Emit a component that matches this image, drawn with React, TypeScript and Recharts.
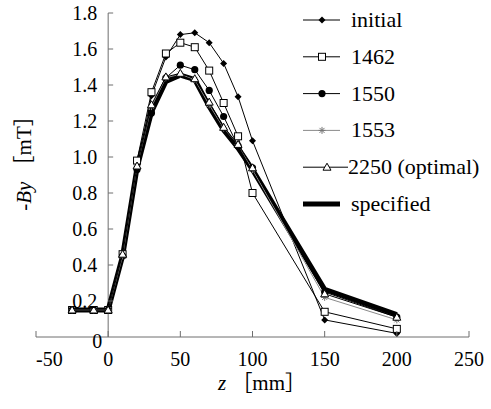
import React from 'react';
import { LineChart, Line, XAxis, YAxis, ReferenceLine, Legend } from 'recharts';

// z positions [mm] and -By values [mT]
const zPositions = [-25, -10, 0, 10, 20, 30, 40, 50, 60, 70, 80, 90, 100, 150, 200];
const initialValues = [0.15, 0.15, 0.15, 0.46, 0.94, 1.34, 1.555, 1.68, 1.69, 1.635, 1.52, 1.335, 1.09, 0.095, 0.02];
const run1462Values = [0.15, 0.15, 0.15, 0.46, 0.98, 1.36, 1.575, 1.635, 1.61, 1.48, 1.3, 1.115, 0.8, 0.14, 0.045];
const run1550Values = [0.15, 0.15, 0.15, 0.45, 0.93, 1.245, 1.44, 1.51, 1.485, 1.37, 1.225, 1.06, 0.94, 0.25, 0.11];
const run1553Values = [0.15, 0.15, 0.15, 0.45, 0.95, 1.28, 1.44, 1.46, 1.43, 1.29, 1.16, 1.07, 0.93, 0.22, 0.095];
const run2250Values = [0.15, 0.15, 0.15, 0.46, 0.95, 1.29, 1.445, 1.465, 1.435, 1.305, 1.165, 1.07, 0.94, 0.24, 0.11];
const specifiedValues = [0.15, 0.15, 0.15, 0.45, 0.94, 1.25, 1.42, 1.455, 1.43, 1.28, 1.15, 1.05, 0.93, 0.265, 0.125];

const xTicks = [-50, 0, 50, 100, 150, 200, 250];
const yTicks = [0, 0.2, 0.4, 0.6, 0.8, 1.0, 1.2, 1.4, 1.6, 1.8];

const data = zPositions.map((z, i) => ({
  z,
  initial: initialValues[i],
  r1462: run1462Values[i],
  r1550: run1550Values[i],
  r1553: run1553Values[i],
  r2250: run2250Values[i],
  specified: specifiedValues[i],
}));

const FONT = "'Liberation Serif', 'Times New Roman', 'Noto Sans CJK JP', serif";
const AXIS = '#6e6e6e';
const W = 491;
const H = 409;
const M = { top: 13, right: 22, left: 35, bottom: 32 };
const PLOT_W = W - M.left - 1 - M.right;
// y axis sits at z = 0 inside the x domain [-50, 250]
const ZERO_OFFSET = (PLOT_W * 50) / 300;

type Kind = 'diamond' | 'square' | 'circle' | 'asterisk' | 'triangle' | 'none';

const series: { key: string; name: string; kind: Kind; stroke: string; width: number }[] = [
  { key: 'specified', name: 'specified', kind: 'none', stroke: '#000', width: 5 },
  { key: 'initial', name: 'initial', kind: 'diamond', stroke: '#000', width: 1 },
  { key: 'r1462', name: '1462', kind: 'square', stroke: '#000', width: 1 },
  { key: 'r1550', name: '1550', kind: 'circle', stroke: '#000', width: 1 },
  { key: 'r1553', name: '1553', kind: 'asterisk', stroke: '#8a8a8a', width: 1 },
  { key: 'r2250', name: '2250 (optimal)', kind: 'triangle', stroke: '#000', width: 1 },
];

const legendOrder = ['initial', 'r1462', 'r1550', 'r1553', 'r2250', 'specified'];

const textStyle = { fontFamily: FONT, fontSize: 20, fill: '#000' };

function Marker({ kind, cx, cy }: { kind: Kind; cx: number; cy: number }) {
  if (cx == null || cy == null) return null;
  switch (kind) {
    case 'diamond':
      return <path d={`M${cx},${cy - 3.5}L${cx + 3.5},${cy}L${cx},${cy + 3.5}L${cx - 3.5},${cy}Z`} fill="#000" />;
    case 'square':
      return <rect x={cx - 3.5} y={cy - 3.5} width={7} height={7} fill="#fff" stroke="#000" strokeWidth={1} />;
    case 'circle':
      return <circle cx={cx} cy={cy} r={3.6} fill="#000" />;
    case 'asterisk':
      return (
        <g stroke="#777" strokeWidth={1}>
          <line x1={cx - 3.5} x2={cx + 3.5} y1={cy} y2={cy} />
          <line x1={cx - 2.5} x2={cx + 2.5} y1={cy - 2.5} y2={cy + 2.5} />
          <line x1={cx - 2.5} x2={cx + 2.5} y1={cy + 2.5} y2={cy - 2.5} />
          <line x1={cx} x2={cx} y1={cy - 3.5} y2={cy + 3.5} />
        </g>
      );
    case 'triangle':
      return <path d={`M${cx},${cy - 4}L${cx + 4},${cy + 3}L${cx - 4},${cy + 3}Z`} fill="#fff" stroke="#000" strokeWidth={1} />;
    default:
      return null;
  }
}

function XTick(props: any) {
  const { x, y, payload, index } = props;
  return (
    <g>
      <line x1={x} x2={x} y1={y} y2={y - 6} stroke={AXIS} />
      <text x={x} y={y + 29} textAnchor={index === 0 ? 'start' : 'middle'} style={textStyle}>
        {payload.value}
      </text>
    </g>
  );
}

function YTick(props: any) {
  const { x, y, payload } = props;
  const ax = x + ZERO_OFFSET;
  const v = payload.value as number;
  if (v === 0) {
    return (
      <text x={ax - 6} y={y + 11} textAnchor="end" style={textStyle}>
        0
      </text>
    );
  }
  return (
    <g>
      <line x1={ax} x2={ax + 5} y1={y} y2={y} stroke={AXIS} />
      <text x={ax - 11} y={y + 7} textAnchor="end" style={textStyle}>
        {v.toFixed(1)}
      </text>
    </g>
  );
}

// legend sits in the top right corner, drawn by hand to match the Excel look
function LegendBox() {
  return (
    <svg width={193} height={225} style={{ display: 'block' }}>
      {legendOrder.map((key, i) => {
        const s = series.find((d) => d.key === key)!;
        const cy = 20 + i * 36.8;
        const wide = key === 'r2250';
        const x2 = wide ? 50 : 42;
        const tx = wide ? 50 : 53;
        return (
          <g key={key}>
            <line x1={5} x2={x2} y1={cy} y2={cy} stroke={s.stroke} strokeWidth={s.width} />
            <Marker kind={s.kind} cx={wide ? 29 : 24} cy={cy} />
            <text x={tx} y={cy + 7} style={{ ...textStyle, fontSize: 22 }}>
              {s.name}
            </text>
          </g>
        );
      })}
    </svg>
  );
}

function YTitle() {
  return (
    <text transform="translate(31,158) rotate(-90)" textAnchor="middle" style={{ ...textStyle, fontSize: 21 }}>
      <tspan fontStyle="italic">-By</tspan>
      <tspan> ［mT］</tspan>
    </text>
  );
}

function XTitle() {
  return (
    <text x={262} y={390} textAnchor="middle" style={{ ...textStyle, fontSize: 21 }}>
      <tspan fontStyle="italic">z</tspan>
      <tspan> ［mm］</tspan>
    </text>
  );
}

export default function App() {
  return (
    <div style={{ position: 'absolute', left: 0, top: 0, width: W, height: H, background: '#fff' }}>
      <LineChart width={W} height={H} data={data} margin={M}>
        <XAxis
          dataKey="z"
          type="number"
          domain={[-50, 250]}
          ticks={xTicks}
          interval={0}
          height={40}
          tickSize={0}
          tickMargin={0}
          tickLine={false}
          axisLine={{ stroke: AXIS }}
          tick={<XTick />}
          label={<XTitle />}
        />
        <YAxis
          type="number"
          domain={[0, 1.8]}
          ticks={yTicks}
          interval={0}
          width={1}
          tickSize={0}
          tickMargin={0}
          tickLine={false}
          axisLine={false}
          tick={<YTick />}
          label={<YTitle />}
        />
        <ReferenceLine x={0} stroke={AXIS} />
        <Legend
          layout="vertical"
          align="center"
          verticalAlign="middle"
          content={() => <LegendBox />}
          wrapperStyle={{ top: 0, left: 298, width: 193 }}
        />
        {series.map((s) => (
          <Line
            key={s.key}
            dataKey={s.key}
            name={s.name}
            type="linear"
            stroke={s.stroke}
            strokeWidth={s.width}
            isAnimationActive={false}
            dot={s.kind === 'none' ? false : (p: any) => <Marker key={`${s.key}-${p.index}`} kind={s.kind} cx={p.cx} cy={p.cy} />}
            activeDot={false}
          />
        ))}
      </LineChart>
    </div>
  );
}
